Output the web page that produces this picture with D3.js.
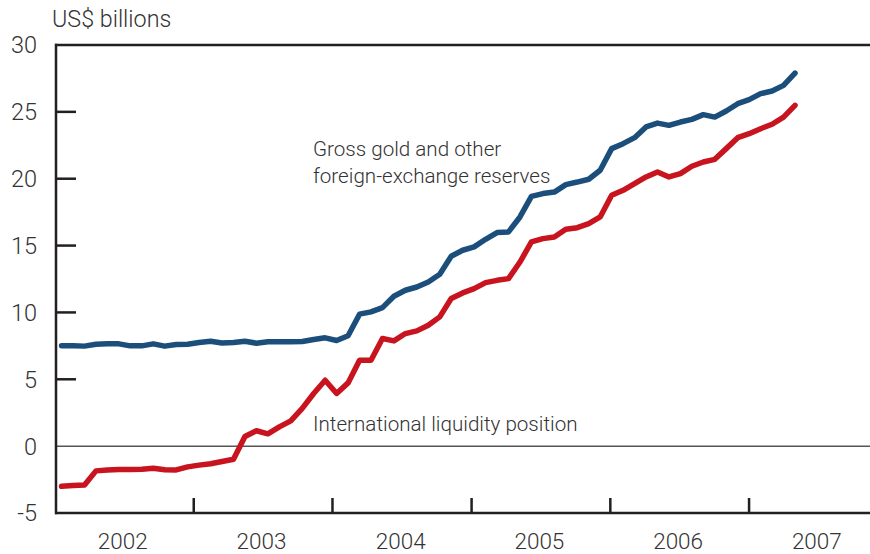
<!DOCTYPE html>
<html>
<head>
<meta charset="utf-8">
<script src="https://cdn.jsdelivr.net/npm/d3@7"></script>
<style>
  html, body { margin: 0; padding: 0; background: #fff; }
  svg { display: block; }
  text { font-family: Roboto, "Liberation Sans", Arial, sans-serif; font-weight: 300; fill: #333; }
</style>
</head>
<body>
<svg id="chart" width="870" height="554"></svg>
<script>
// ---- data ----
const firstMonth = new Date(2002, 0, 1);
const afterLastMonth = new Date(2007, 5, 1);
const months = d3.timeMonths(firstMonth, afterLastMonth); // Jan 2002 .. May 2007

const grossReserves = [
  7.5, 7.5, 7.48, 7.62, 7.65, 7.65, 7.5, 7.5, 7.65, 7.48, 7.6, 7.62,
  7.75, 7.85, 7.72, 7.75, 7.85, 7.7, 7.8, 7.8, 7.8, 7.82, 7.97, 8.1,
  7.9, 8.25, 9.87, 10.04, 10.36, 11.21, 11.66, 11.9, 12.28, 12.85, 14.2, 14.65,
  14.9, 15.47, 15.97, 16.02, 17.14, 18.68, 18.89, 19.0, 19.56, 19.75, 19.96, 20.63,
  22.25, 22.62, 23.07, 23.87, 24.16, 23.99, 24.24, 24.44, 24.79, 24.61, 25.06, 25.61,
  25.91, 26.36, 26.56, 26.98, 27.9
];
const liquidityPosition = [
  -3.0, -2.95, -2.9, -1.85, -1.78, -1.75, -1.75, -1.72, -1.65, -1.77, -1.78, -1.55,
  -1.42, -1.32, -1.15, -0.98, 0.72, 1.15, 0.92, 1.44, 1.89, 2.82, 3.94, 4.93,
  3.94, 4.73, 6.43, 6.43, 8.05, 7.87, 8.42, 8.62, 9.04, 9.67, 11.04, 11.46,
  11.78, 12.23, 12.4, 12.53, 13.77, 15.27, 15.52, 15.64, 16.22, 16.34, 16.64, 17.14,
  18.76, 19.13, 19.63, 20.13, 20.5, 20.13, 20.38, 20.93, 21.25, 21.45, 22.25, 23.07,
  23.37, 23.74, 24.07, 24.61, 25.49
];
const yTicks = [-5, 0, 5, 10, 15, 20, 25, 30];
const yearLabels = ["2002", "2003", "2004", "2005", "2006", "2007"];
const unitLabel = "US$ billions";
const grossLabel = ["Gross gold and other", "foreign-exchange reserves"];
const liquidityLabel = ["International liquidity position"];

// ---- layout ----
const svg = d3.select("#chart");
const pLeft = 56, pRight = 870, pTop = 45, pBottom = 513;

const y = d3.scaleLinear().domain([-5, 30]).range([pBottom, pTop]);
const xYear = d3.scaleTime()
  .domain([new Date(2002, 0, 1), new Date(2008, 0, 1)])
  .range([55, 55 + 6 * 138.8]);
const xPt = d3.scalePoint().domain(months.map(d => +d)).range([61.6, 795]);

const ink = "#231f20";

// y ticks (inward)
svg.append("g").selectAll("line")
  .data(yTicks.filter(v => v !== 0 && v !== 30 && v !== -5))
  .join("line")
  .attr("x1", pLeft).attr("x2", pLeft + 20)
  .attr("y1", d => y(d)).attr("y2", d => y(d))
  .attr("stroke", ink).attr("stroke-width", 2.5);

// zero line
svg.append("line")
  .attr("x1", pLeft).attr("x2", pRight)
  .attr("y1", y(0)).attr("y2", y(0))
  .attr("stroke", "#555").attr("stroke-width", 1.5);

// x ticks at year boundaries (inward from bottom)
const yearStarts = yearLabels.slice(1).map(s => new Date(+s, 0, 1));
svg.append("g").selectAll("line")
  .data(yearStarts)
  .join("line")
  .attr("x1", d => xYear(d)).attr("x2", d => xYear(d))
  .attr("y1", pBottom).attr("y2", pBottom - 15)
  .attr("stroke", ink).attr("stroke-width", 2.5);

// frame: top, left, bottom
svg.append("line").attr("x1", pLeft - 1).attr("x2", pRight).attr("y1", pTop).attr("y2", pTop)
  .attr("stroke", ink).attr("stroke-width", 2.5);
svg.append("line").attr("x1", pLeft - 1).attr("x2", pRight).attr("y1", pBottom).attr("y2", pBottom)
  .attr("stroke", ink).attr("stroke-width", 2.5);
svg.append("line").attr("x1", pLeft).attr("x2", pLeft).attr("y1", pTop - 1.25).attr("y2", pBottom + 1.25)
  .attr("stroke", ink).attr("stroke-width", 2.5);

// y labels
svg.append("g").selectAll("text")
  .data(yTicks)
  .join("text")
  .attr("x", 37).attr("y", d => y(d))
  .attr("dy", "0.36em")
  .attr("text-anchor", "end")
  .attr("font-size", 23.5)
  .text(d => d);

// x labels (centered in each year)
svg.append("g").selectAll("text")
  .data(yearLabels)
  .join("text")
  .attr("x", d => xYear(new Date(+d, 6, 1)) - 1)
  .attr("y", 548.5)
  .attr("text-anchor", "middle")
  .attr("font-size", 22.5)
  .text(d => d);

// unit label
svg.append("text").attr("x", 52).attr("y", 27).attr("font-size", 23.3).text(unitLabel);

// lines
const lineFor = (vals) => d3.line()
  .x((d, i) => xPt(+months[i]))
  .y(d => y(d))(vals);

svg.append("path").attr("d", lineFor(grossReserves))
  .attr("fill", "none").attr("stroke", "#1c4e7b").attr("stroke-width", 5.5)
  .attr("stroke-linejoin", "round").attr("stroke-linecap", "round");
svg.append("path").attr("d", lineFor(liquidityPosition))
  .attr("fill", "none").attr("stroke", "#c8141f").attr("stroke-width", 5.5)
  .attr("stroke-linejoin", "round").attr("stroke-linecap", "round");

// annotations
svg.append("text").attr("x", 313).attr("y", 156).attr("font-size", 20.6).text(grossLabel[0]);
svg.append("text").attr("x", 313).attr("y", 183).attr("font-size", 20.6).text(grossLabel[1]);
svg.append("text").attr("x", 313).attr("y", 431).attr("font-size", 20.6).text(liquidityLabel[0]);
</script>
</body>
</html>
